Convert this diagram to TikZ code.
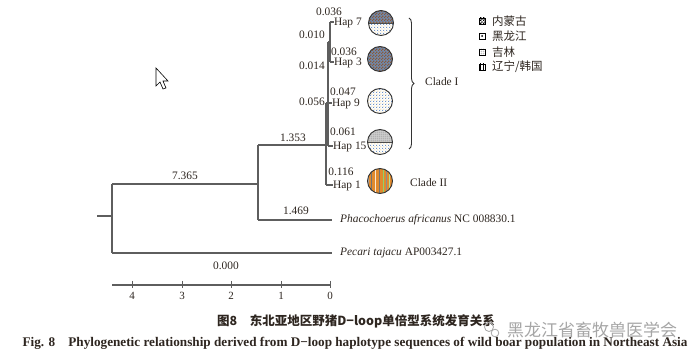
\documentclass[tikz,border=0pt]{standalone}
\usepackage{fontspec}
\setmainfont{Liberation Serif}
\newfontfamily\cjk{Noto Sans CJK SC}
\usetikzlibrary{patterns,decorations.pathreplacing}
\definecolor{txt}{HTML}{2E2620}
\definecolor{ln}{HTML}{5E5E5E}
\definecolor{mgbrown}{HTML}{8A5A3A}
\definecolor{mgblue}{HTML}{7088AA}
\definecolor{dotc}{HTML}{3F6FB0}
\definecolor{dotd}{HTML}{D8A030}
\definecolor{jlgray}{HTML}{9A9A9A}
\definecolor{lnorange}{HTML}{E08A2E}
\definecolor{lngreen}{HTML}{8FD36B}
\pgfdeclarepatternformonly{finecheck}{\pgfqpoint{0pt}{0pt}}{\pgfqpoint{3pt}{3pt}}{\pgfqpoint{3pt}{3pt}}{%
  \pgfpathrectangle{\pgfqpoint{0pt}{0pt}}{\pgfqpoint{1.5pt}{1.5pt}}%
  \pgfpathrectangle{\pgfqpoint{1.5pt}{1.5pt}}{\pgfqpoint{1.5pt}{1.5pt}}%
  \pgfusepath{fill}}
\pgfdeclarepatternformonly{finedots}{\pgfqpoint{0pt}{0pt}}{\pgfqpoint{3.2pt}{3.2pt}}{\pgfqpoint{3.2pt}{3.2pt}}{%
  \pgfpathcircle{\pgfqpoint{0.8pt}{0.8pt}}{0.65pt}%
  \pgfusepath{fill}}
\pgfdeclarepatternformonly{finedotsb}{\pgfqpoint{0pt}{0pt}}{\pgfqpoint{3.2pt}{3.2pt}}{\pgfqpoint{3.2pt}{3.2pt}}{%
  \pgfpathcircle{\pgfqpoint{2.4pt}{2.4pt}}{0.55pt}%
  \pgfusepath{fill}}
\pgfdeclarepatternformonly{finegrid}{\pgfqpoint{0pt}{0pt}}{\pgfqpoint{2.2pt}{2.2pt}}{\pgfqpoint{2.2pt}{2.2pt}}{%
  \pgfsetlinewidth{0.5pt}%
  \pgfpathmoveto{\pgfqpoint{0pt}{0pt}}\pgfpathlineto{\pgfqpoint{2.2pt}{0pt}}%
  \pgfpathmoveto{\pgfqpoint{0pt}{0pt}}\pgfpathlineto{\pgfqpoint{0pt}{2.2pt}}%
  \pgfusepath{stroke}}
\begin{document}
\begin{tikzpicture}[x=1pt,y=-1pt,
  every node/.style={text=txt,inner sep=0pt},
  lab/.style={font=\fontsize{11.4}{12}\selectfont},
  num/.style={lab,text height=7.8pt,text depth=0pt},
  hap/.style={lab,text height=7.6pt,text depth=0pt,anchor=west},
  ax/.style={font=\fontsize{11}{12}\selectfont},
  tree/.style={draw=ln,line width=1.1pt},
  hapc/.style={draw=black!80,line width=0.9pt},
  dotsA/.style={pattern=finedots,pattern color=dotc},
  dotsB/.style={pattern=finedotsb,pattern color=dotd},
  legbox/.style={draw=black,line width=0.6pt,minimum size=6pt}]
\useasboundingbox (0,0) rectangle (694,363);
\fill[white] (0,0) rectangle (694,363);

% ---------- tree coordinates ----------
\coordinate (r0) at (97,216);
\coordinate (r1) at (112,216);
\coordinate (a1) at (112,184);
\coordinate (a2) at (112,253);
\coordinate (b0) at (258,184);
\coordinate (b1) at (258,145);
\coordinate (b2) at (258,220);
\coordinate (phe) at (332,220);
\coordinate (pee) at (332,253);
\coordinate (c1t) at (326,103);
\coordinate (c1m) at (326,145);
\coordinate (c1b) at (326,185);
\coordinate (h1) at (333,185);
\coordinate (c2j) at (328,103);
\coordinate (c2t) at (328,42);
\coordinate (c2b) at (328,146);
\coordinate (h9) at (332,103);
\coordinate (h15) at (333,146);
\coordinate (c3j) at (330,42);
\coordinate (c3t) at (330,22);
\coordinate (c3b) at (330,62);
\coordinate (h7) at (334,22);
\coordinate (h3) at (334,62);

\draw[tree] (r0) -- (r1);
\draw[tree] (a1) -- (a2);
\draw[tree] (a1) -- (b0);
\draw[tree] (b1) -- (b2);
\draw[tree] (b1) -- (c1m);
\draw[tree] (b2) -- (phe);
\draw[tree] (a2) -- (pee);
\draw[tree] (c1t) -- (c1b);
\draw[tree] (c1b) -- (h1);
\draw[tree] (c1t) -- (c2j);
\draw[tree] (c2t) -- (c2b);
\draw[tree] (c2j) -- (h9);
\draw[tree] (c2b) -- (h15);
\draw[tree] (c2t) -- (c3j);
\draw[tree] (c3t) -- (c3b);
\draw[tree] (c3t) -- (h7);
\draw[tree] (c3b) -- (h3);

% ---------- branch labels ----------
\node[num] (l7365) at (185,176) {7.365};
\node[num] (l1353) at (293,138) {1.353};
\node[num] (l1469) at (296,211) {1.469};
\node[num] (l0000) at (226,266) {0.000};
\node[num,anchor=east] (l010) at (325,35) {0.010};
\node[num,anchor=east] (l014) at (325,66) {0.014};
\node[num,anchor=east] (l056) at (325,102) {0.056};
\node[num] (l036a) at (329,12) {0.036};
\node[num] (l036b) at (344,52) {0.036};
\node[num] (l047) at (343,92) {0.047};
\node[num] (l061) at (343,132) {0.061};
\node[num] (l116) at (341,172) {0.116};
\node[hap] (t7) at (h7) {Hap 7};
\node[hap] (t3) at (h3) {Hap 3};
\node[hap] (t9) at (h9) {Hap 9};
\node[hap] (t15) at (h15) {Hap 15};
\node[hap] (t1) at (h1) {Hap 1};
\node[lab,anchor=west] (tph) at (340,220) {\textit{Phacochoerus africanus} NC 008830.1};
\node[lab,anchor=west] (tpe) at (340,253) {\textit{Pecari tajacu} AP003427.1};

% ---------- haplotype circles ----------
% Hap 7: top Inner Mongolia, bottom Heilongjiang
\begin{scope}
  \clip (381,23) circle (12.5);
  \fill[mgblue] (368,10) rectangle (394,23);
  \fill[pattern=finecheck,pattern color=mgbrown] (368,10) rectangle (394,23);
  \fill[dotsA] (368,23) rectangle (394,36);
  \fill[dotsB] (368,23) rectangle (394,36);
  \draw[black!70,line width=0.6pt] (368,23) -- (394,23);
\end{scope}
\draw[hapc] (381,23) circle (12.5);
% Hap 3: Inner Mongolia
\begin{scope}
  \clip (380,59) circle (12.5);
  \fill[mgblue] (366,45) rectangle (394,73);
  \fill[pattern=finecheck,pattern color=mgbrown] (366,45) rectangle (394,73);
\end{scope}
\draw[hapc] (380,59) circle (12.5);
% Hap 9: Heilongjiang
\fill[dotsA] (380,101) circle (12.5);
\fill[dotsB] (380,101) circle (12.5);
\draw[hapc] (380,101) circle (12.5);
% Hap 15: top Jilin, bottom Heilongjiang
\begin{scope}
  \clip (380,142) circle (12.5);
  \fill[jlgray!50] (366,128) rectangle (394,142);
  \fill[pattern=finegrid,pattern color=black!55] (366,128) rectangle (394,142);
  \fill[dotsA] (366,142) rectangle (394,156);
  \fill[dotsB] (366,142) rectangle (394,156);
  \draw[black!70,line width=0.6pt] (366,142) -- (394,142);
\end{scope}
\draw[hapc] (380,142) circle (12.5);
% Hap 1: Liaoning / Korea stripes
\begin{scope}
  \clip (380,181) circle (12.5);
  \fill[lnorange] (366,167) rectangle (394,195);
  \foreach \xx/\cc in {368/gray!60,371/black!55,375/white!80!lnorange,379/black!55,383/lngreen,386/black!45,389/lngreen!70!white,392/gray!60}{
    \fill[\cc] (\xx,167) rectangle ++(1.4,28);
  }
\end{scope}
\draw[hapc] (380,181) circle (12.5);

% ---------- brace and clade labels ----------
\coordinate (brt) at (409,18);
\coordinate (brb) at (409,149);
\draw[draw=black!80,line width=0.9pt,decorate,decoration={brace,amplitude=5pt}] (brt) -- (brb);
\node[lab,anchor=west] (cl1) at (425,82) {Clade I};
\node[lab,anchor=west] (cl2) at (410,183) {Clade II};

% ---------- legend ----------
\node[legbox,fill=mgblue!40,pattern=finecheck,pattern color=black] (g1) at (482,21) {};
\node[legbox] (g2) at (482,36) {};
\fill[black] (g2.center) circle (1);
\node[legbox,fill=gray!50,pattern=finegrid,pattern color=black!80] (g3) at (482,52) {};
\node[legbox,pattern=vertical lines,pattern color=black] (g4) at (482,67) {};
\node[anchor=west,font=\cjk\fontsize{11.5}{12}\selectfont] (gt1) at (492,21) {内蒙古};
\node[anchor=west,font=\cjk\fontsize{11.5}{12}\selectfont] (gt2) at (492,36) {黑龙江};
\node[anchor=west,font=\cjk\fontsize{11.5}{12}\selectfont] (gt3) at (492,52) {吉林};
\node[anchor=west,font=\cjk\fontsize{11.5}{12}\selectfont] (gt4) at (492,67) {辽宁/韩国};

% ---------- scale axis ----------
\coordinate (s0) at (112,285);
\coordinate (s1) at (331,285);
\draw[tree] (s0) -- (s1);
\foreach \xx/\vv in {132/4,182/3,231/2,281/1,330/0}{
  \draw[tree,line width=0.8pt] (\xx,281) -- (\xx,288);
  \node[ax] (sl\vv) at (\xx,296) {\vv};
}

% ---------- mouse cursor ----------
\draw[black,line width=0.6pt,fill=white] (156,68) -- (156,86) -- (160,82) -- (163,89) -- (166,88) -- (163,81) -- (168,81) -- cycle;

% ---------- captions ----------
\node[font=\cjk\bfseries\fontsize{12.5}{14}\selectfont] (cap1) at (356,321) {图8\quad 东北亚地区野猪D−loop单倍型系统发育关系};
\node[font=\bfseries\fontsize{13.2}{14}\selectfont] (cap2) at (355,343) {Fig. 8\quad Phylogenetic relationship derived from D−loop haplotype sequences of wild boar population in Northeast Asia};

% ---------- watermark ----------
\node[font=\cjk\fontsize{17}{18}\selectfont,text=gray!70] (wm) at (592,330) {黑龙江省畜牧兽医学会};
\draw[gray!70,line width=0.8pt] (489,327) circle (4.5);
\draw[gray!70,line width=0.8pt] (495,333) circle (3.8);
\end{tikzpicture}
\end{document}
